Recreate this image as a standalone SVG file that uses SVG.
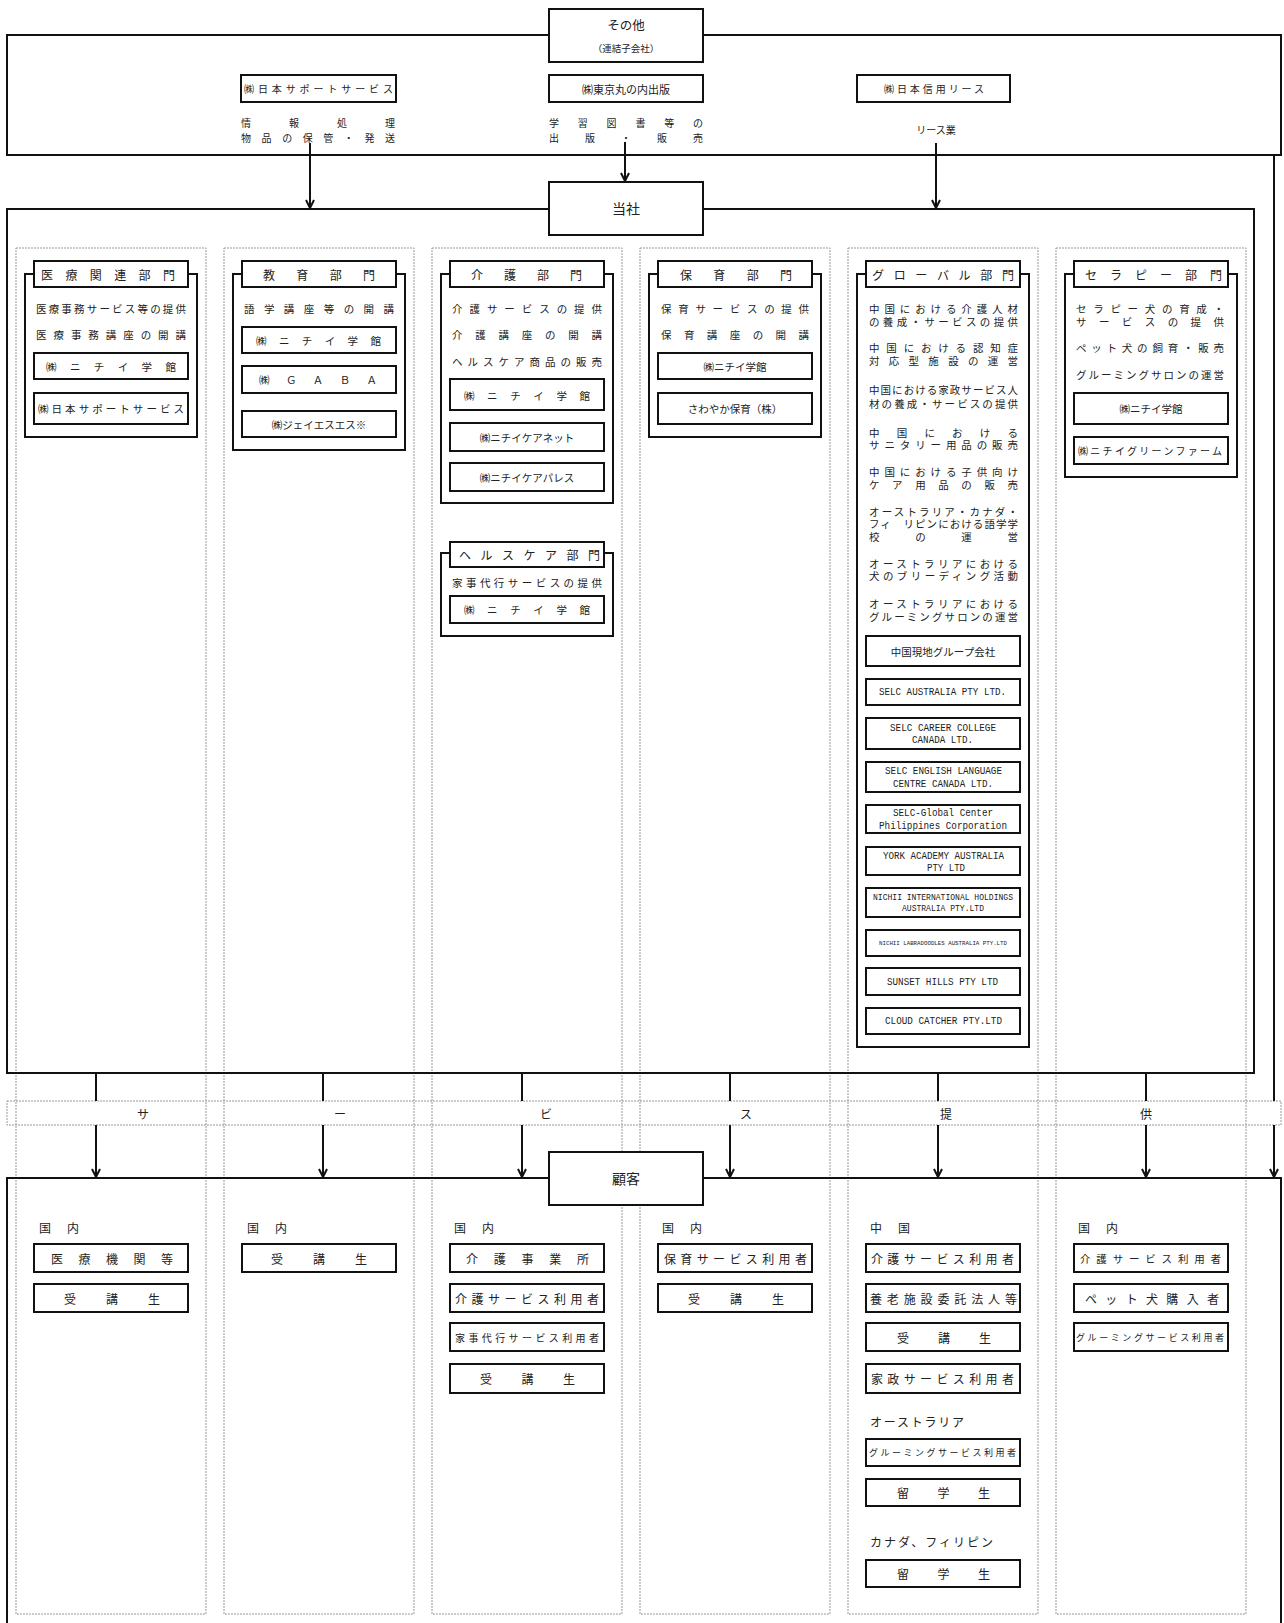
<svg xmlns="http://www.w3.org/2000/svg" width="1284" height="1623" viewBox="0 0 1284 1623">
<style>
.frame{fill:none;stroke:#111;stroke-width:2}
.wf{fill:#fff;stroke:#111;stroke-width:2}
.box{fill:#fff;stroke:#111;stroke-width:2}
.col{fill:none;stroke:#999;stroke-width:1;stroke-dasharray:2 1}
.band{fill:none;stroke:#999;stroke-width:1;stroke-dasharray:2 1}
.conn{fill:none;stroke:#111;stroke-width:2}
text{font-family:"Noto Sans CJK JP","Noto Sans CJK SC",sans-serif;fill:#222;dominant-baseline:central}
.b{font-size:10.5px}
.s{font-size:10px}
.ti{font-size:12px}
.c{font-size:12px}
.m{text-anchor:middle}
.en{font-family:"Liberation Mono",monospace;font-size:11px}
.en2{font-family:"Liberation Mono",monospace;font-size:10px}
</style>
<defs>
<marker id="arr" markerUnits="userSpaceOnUse" markerWidth="10" markerHeight="10" viewBox="0 0 10 10" refX="9" refY="5" orient="auto">
<path d="M1,1 L9,5 L1,9" fill="none" stroke="#111" stroke-width="2"/>
</marker>
</defs>

<!-- dotted columns -->
<g id="columns">
<rect class="col" x="16" y="248" width="190" height="1366"/>
<rect class="col" x="224" y="248" width="190" height="1366"/>
<rect class="col" x="432" y="248" width="190" height="1366"/>
<rect class="col" x="640" y="248" width="190" height="1366"/>
<rect class="col" x="848" y="248" width="190" height="1366"/>
<rect class="col" x="1056" y="248" width="190" height="1366"/>
</g>

<!-- big frames -->
<g id="sonota-frame"><rect class="frame" x="7" y="35" width="1274" height="120"/></g>
<g id="tousha-frame"><rect class="frame" x="7" y="209" width="1247" height="864"/></g>
<g id="kokyaku-frame"><rect class="frame" x="7" y="1178" width="1274" height="470"/></g>

<g id="service-band">
<rect class="band" x="7" y="1101" width="1274" height="24"/>
<text class="c m" x="143" y="1113">サ</text>
<text class="c m" x="340" y="1113">ー</text>
<text class="c m" x="546" y="1113">ビ</text>
<text class="c m" x="746" y="1113">ス</text>
<text class="c m" x="946" y="1113">提</text>
<text class="c m" x="1146" y="1113">供</text>
</g>

<!-- connectors -->
<g id="connectors">
<path class="conn" d="M310,143 V208" marker-end="url(#arr)"/>
<path class="conn" d="M625,142 V181" marker-end="url(#arr)"/>
<path class="conn" d="M936,143 V208" marker-end="url(#arr)"/>
<path class="conn" d="M1274,155 V1101"/>
<path class="conn" d="M1274,1125 V1177" marker-end="url(#arr)"/>
<path class="conn" d="M96,1073 V1101"/><path class="conn" d="M96,1125 V1177" marker-end="url(#arr)"/>
<path class="conn" d="M323,1073 V1101"/><path class="conn" d="M323,1125 V1177" marker-end="url(#arr)"/>
<path class="conn" d="M522,1073 V1101"/><path class="conn" d="M522,1125 V1177" marker-end="url(#arr)"/>
<path class="conn" d="M730,1073 V1101"/><path class="conn" d="M730,1125 V1177" marker-end="url(#arr)"/>
<path class="conn" d="M938,1073 V1101"/><path class="conn" d="M938,1125 V1177" marker-end="url(#arr)"/>
<path class="conn" d="M1146,1073 V1101"/><path class="conn" d="M1146,1125 V1177" marker-end="url(#arr)"/>
</g>

<!-- top nodes -->
<g id="sonota">
<rect class="box" x="549" y="9" width="154" height="53"/>
<text class="m" x="626" y="24" style="font-size:12.5px">その他</text>
<text class="m" x="626" y="48" style="font-size:9.5px">（連結子会社）</text>
</g>
<g id="nihon-support-top">
<rect class="box" x="241" y="75" width="155" height="27"/>
<text class="s" x="244" y="88.5" textLength="149" lengthAdjust="spacing">㈱日本サポートサービス</text>
<text class="s" x="241" y="122" textLength="154" lengthAdjust="spacing">情報処理</text>
<text class="s" x="241" y="137" textLength="154" lengthAdjust="spacing">物品の保管・発送</text>
</g>
<g id="tokyo-marunouchi">
<rect class="box" x="549" y="75" width="154" height="27"/>
<text class="m" x="626" y="88.5" style="font-size:11px">㈱東京丸の内出版</text>
<text class="s" x="549" y="122" textLength="154" lengthAdjust="spacing">学習図書等の</text>
<text class="s" x="549" y="137" textLength="154" lengthAdjust="spacing">出版・販売</text>
</g>
<g id="nihon-shinyo">
<rect class="box" x="857" y="75" width="153" height="27"/>
<text class="s" x="884" y="88.5" textLength="100" lengthAdjust="spacing">㈱日本信用リース</text>
<text class="s m" x="936" y="129">リース業</text>
</g>
<g id="tousha">
<rect class="box" x="549" y="182" width="154" height="53"/>
<text class="m" x="626" y="208" style="font-size:14px">当社</text>
</g>
<g id="kokyaku">
<rect class="box" x="549" y="1152" width="154" height="53"/>
<text class="m" x="626" y="1178" style="font-size:14px">顧客</text>
</g>

<!-- departments -->
<g id="dept-iryo">
<rect class="frame" x="25" y="274" width="172" height="163"/>
<rect class="box" x="34" y="261" width="154" height="26"/>
<text class="ti" x="41" y="274" textLength="134" lengthAdjust="spacing">医療関連部門</text>
<text class="b" x="36" y="308" textLength="150" lengthAdjust="spacing">医療事務サービス等の提供</text>
<text class="b" x="36" y="334" textLength="150" lengthAdjust="spacing">医療事務講座の開講</text>
<rect class="box" x="34" y="353" width="154" height="26"/>
<text class="b" x="46" y="366" textLength="130" lengthAdjust="spacing">㈱ニチイ学館</text>
<rect class="box" x="34" y="393" width="154" height="31"/>
<text class="b" x="38" y="408.5" textLength="146" lengthAdjust="spacing">㈱日本サポートサービス</text>
</g>

<g id="dept-kyoiku">
<rect class="frame" x="233" y="274" width="172" height="176"/>
<rect class="box" x="242" y="261" width="154" height="26"/>
<text class="ti" x="263" y="274" textLength="112" lengthAdjust="spacing">教育部門</text>
<text class="b" x="244" y="308" textLength="150" lengthAdjust="spacing">語学講座等の開講</text>
<rect class="box" x="242" y="327" width="154" height="26"/>
<text class="b" x="256" y="340" textLength="125" lengthAdjust="spacing">㈱ニチイ学館</text>
<rect class="box" x="242" y="366" width="154" height="27"/>
<text class="b" x="259" y="379.5" textLength="118" lengthAdjust="spacing">㈱ＧＡＢＡ</text>
<rect class="box" x="242" y="411" width="154" height="26"/>
<text class="b m" x="319" y="424">㈱ジェイエスエス※</text>
</g>

<g id="dept-kaigo">
<rect class="frame" x="441" y="274" width="172" height="229"/>
<rect class="box" x="450" y="261" width="154" height="26"/>
<text class="ti" x="471" y="274" textLength="111" lengthAdjust="spacing">介護部門</text>
<text class="b" x="452" y="308" textLength="150" lengthAdjust="spacing">介護サービスの提供</text>
<text class="b" x="452" y="334" textLength="150" lengthAdjust="spacing">介護講座の開講</text>
<text class="b" x="452" y="361" textLength="150" lengthAdjust="spacing">ヘルスケア商品の販売</text>
<rect class="box" x="450" y="379" width="154" height="31"/>
<text class="b" x="464" y="395" textLength="126" lengthAdjust="spacing">㈱ニチイ学館</text>
<rect class="box" x="450" y="423" width="154" height="28"/>
<text class="b m" x="527" y="437">㈱ニチイケアネット</text>
<rect class="box" x="450" y="463" width="154" height="28"/>
<text class="b m" x="527" y="477">㈱ニチイケアパレス</text>
</g>

<g id="dept-healthcare">
<rect class="frame" x="441" y="553" width="172" height="83"/>
<rect class="box" x="450" y="542" width="154" height="25"/>
<text class="ti" x="459" y="554.5" textLength="141" lengthAdjust="spacing">ヘルスケア部門</text>
<text class="b" x="452" y="582" textLength="150" lengthAdjust="spacing">家事代行サービスの提供</text>
<rect class="box" x="450" y="596" width="154" height="27"/>
<text class="b" x="464" y="609.5" textLength="126" lengthAdjust="spacing">㈱ニチイ学館</text>
</g>

<g id="dept-hoiku">
<rect class="frame" x="649" y="274" width="172" height="163"/>
<rect class="box" x="658" y="261" width="154" height="26"/>
<text class="ti" x="680" y="274" textLength="112" lengthAdjust="spacing">保育部門</text>
<text class="b" x="661" y="308" textLength="148" lengthAdjust="spacing">保育サービスの提供</text>
<text class="b" x="661" y="334" textLength="148" lengthAdjust="spacing">保育講座の開講</text>
<rect class="box" x="658" y="353" width="154" height="26"/>
<text class="b m" x="735" y="366">㈱ニチイ学館</text>
<rect class="box" x="658" y="393" width="154" height="31"/>
<text class="b m" x="735" y="408.5">さわやか保育（株）</text>
</g>

<g id="dept-global">
<rect class="frame" x="857" y="274" width="172" height="773"/>
<rect class="box" x="866" y="261" width="154" height="26"/>
<text class="ti" x="872" y="274" textLength="142" lengthAdjust="spacing">グローバル部門</text>
<text class="b" x="869" y="308" textLength="149" lengthAdjust="spacing">中国における介護人材</text>
<text class="b" x="869" y="321" textLength="149" lengthAdjust="spacing">の養成・サービスの提供</text>
<text class="b" x="869" y="347" textLength="149" lengthAdjust="spacing">中国における認知症</text>
<text class="b" x="869" y="360" textLength="149" lengthAdjust="spacing">対応型施設の運営</text>
<text class="b" x="869" y="389" textLength="149" lengthAdjust="spacing">中国における家政サービス人</text>
<text class="b" x="869" y="403" textLength="149" lengthAdjust="spacing">材の養成・サービスの提供</text>
<text class="b" x="869" y="432" textLength="149" lengthAdjust="spacing">中国における</text>
<text class="b" x="869" y="444" textLength="149" lengthAdjust="spacing">サニタリー用品の販売</text>
<text class="b" x="869" y="471" textLength="149" lengthAdjust="spacing">中国における子供向け</text>
<text class="b" x="869" y="484" textLength="149" lengthAdjust="spacing">ケア用品の販売</text>
<text class="b" x="869" y="511" textLength="149" lengthAdjust="spacing">オーストラリア・カナダ・</text>
<text class="b" x="869" y="523" textLength="149" lengthAdjust="spacing">フィ　リピンにおける語学学</text>
<text class="b" x="869" y="536" textLength="149" lengthAdjust="spacing">校の運営</text>
<text class="b" x="869" y="563" textLength="149" lengthAdjust="spacing">オーストラリアにおける</text>
<text class="b" x="869" y="575" textLength="149" lengthAdjust="spacing">犬のブリーディング活動</text>
<text class="b" x="869" y="603" textLength="149" lengthAdjust="spacing">オーストラリアにおける</text>
<text class="b" x="869" y="616" textLength="149" lengthAdjust="spacing">グルーミングサロンの運営</text>
<rect class="box" x="866" y="636" width="154" height="30"/>
<text class="b m" x="943" y="651">中国現地グループ会社</text>
<rect class="box" x="866" y="679" width="154" height="26"/>
<text class="en" x="879" y="692" textLength="127" lengthAdjust="spacingAndGlyphs">SELC AUSTRALIA PTY LTD.</text>
<rect class="box" x="866" y="718" width="154" height="31"/>
<text class="en2" x="890" y="728" textLength="106" lengthAdjust="spacingAndGlyphs">SELC CAREER COLLEGE</text>
<text class="en2" x="912" y="740.5" textLength="61" lengthAdjust="spacingAndGlyphs">CANADA LTD.</text>
<rect class="box" x="866" y="762" width="154" height="30"/>
<text class="en2" x="885" y="771" textLength="117" lengthAdjust="spacingAndGlyphs">SELC ENGLISH LANGUAGE</text>
<text class="en2" x="893" y="784" textLength="100" lengthAdjust="spacingAndGlyphs">CENTRE CANADA LTD.</text>
<rect class="box" x="866" y="805" width="154" height="28"/>
<text class="en2" x="893" y="813.5" textLength="100" lengthAdjust="spacingAndGlyphs">SELC-Global Center</text>
<text class="en2" x="879" y="826.5" textLength="128" lengthAdjust="spacingAndGlyphs">Philippines Corporation</text>
<rect class="box" x="866" y="847" width="154" height="28"/>
<text class="en2" x="883" y="856" textLength="121" lengthAdjust="spacingAndGlyphs">YORK ACADEMY AUSTRALIA</text>
<text class="en2" x="927" y="868" textLength="38" lengthAdjust="spacingAndGlyphs">PTY LTD</text>
<rect class="box" x="866" y="888" width="154" height="29"/>
<text class="en2" x="873" y="898" textLength="140" lengthAdjust="spacingAndGlyphs" style="font-size:9px">NICHII INTERNATIONAL HOLDINGS</text>
<text class="en2" x="902" y="909" textLength="82" lengthAdjust="spacingAndGlyphs" style="font-size:9px">AUSTRALIA PTY.LTD</text>
<rect class="box" x="866" y="930" width="154" height="26"/>
<text class="en2" x="879" y="943" textLength="128" lengthAdjust="spacingAndGlyphs" style="font-size:6px">NICHII LABRADOODLES AUSTRALIA PTY.LTD</text>
<rect class="box" x="866" y="968" width="154" height="27"/>
<text class="en" x="887" y="981.5" textLength="111" lengthAdjust="spacingAndGlyphs">SUNSET HILLS PTY LTD</text>
<rect class="box" x="866" y="1008" width="154" height="26"/>
<text class="en" x="885" y="1021" textLength="117" lengthAdjust="spacingAndGlyphs">CLOUD CATCHER PTY.LTD</text>
</g>

<g id="dept-therapy">
<rect class="frame" x="1065" y="274" width="172" height="203"/>
<rect class="box" x="1074" y="261" width="154" height="26"/>
<text class="ti" x="1085" y="274" textLength="137" lengthAdjust="spacing">セラピー部門</text>
<text class="b" x="1076" y="308" textLength="148" lengthAdjust="spacing">セラピー犬の育成・</text>
<text class="b" x="1076" y="321" textLength="148" lengthAdjust="spacing">サービスの提供</text>
<text class="b" x="1076" y="347" textLength="148" lengthAdjust="spacing">ペット犬の飼育・販売</text>
<text class="b" x="1076" y="374" textLength="148" lengthAdjust="spacing">グルーミングサロンの運営</text>
<rect class="box" x="1074" y="393" width="154" height="31"/>
<text class="b m" x="1151" y="408.5">㈱ニチイ学館</text>
<rect class="box" x="1074" y="437" width="154" height="27"/>
<text class="s" x="1078" y="450.5" textLength="144" lengthAdjust="spacing">㈱ニチイグリーンファーム</text>
</g>

<!-- customers -->
<g id="cust-iryo">
<text class="c" x="39" y="1227" textLength="40" lengthAdjust="spacing">国内</text>
<rect class="box" x="34" y="1244" width="154" height="28"/>
<text class="c" x="51" y="1258" textLength="122" lengthAdjust="spacing">医療機関等</text>
<rect class="box" x="34" y="1284" width="154" height="28"/>
<text class="c" x="64" y="1298" textLength="96" lengthAdjust="spacing">受講生</text>
</g>
<g id="cust-kyoiku">
<text class="c" x="247" y="1227" textLength="40" lengthAdjust="spacing">国内</text>
<rect class="box" x="242" y="1244" width="154" height="28"/>
<text class="c" x="271" y="1258" textLength="96" lengthAdjust="spacing">受講生</text>
</g>
<g id="cust-kaigo">
<text class="c" x="454" y="1227" textLength="40" lengthAdjust="spacing">国内</text>
<rect class="box" x="450" y="1244" width="154" height="28"/>
<text class="c" x="466" y="1258" textLength="123" lengthAdjust="spacing">介護事業所</text>
<rect class="box" x="450" y="1284" width="154" height="28"/>
<text class="c" x="455" y="1298" textLength="144" lengthAdjust="spacing">介護サービス利用者</text>
<rect class="box" x="450" y="1323" width="154" height="28"/>
<text class="s" x="455" y="1337" textLength="144" lengthAdjust="spacing">家事代行サービス利用者</text>
<rect class="box" x="450" y="1364" width="154" height="29"/>
<text class="c" x="480" y="1378.5" textLength="95" lengthAdjust="spacing">受講生</text>
</g>
<g id="cust-hoiku">
<text class="c" x="662" y="1227" textLength="40" lengthAdjust="spacing">国内</text>
<rect class="box" x="658" y="1244" width="154" height="28"/>
<text class="c" x="664" y="1258" textLength="143" lengthAdjust="spacing">保育サービス利用者</text>
<rect class="box" x="658" y="1284" width="154" height="28"/>
<text class="c" x="688" y="1298" textLength="96" lengthAdjust="spacing">受講生</text>
</g>
<g id="cust-global">
<text class="c" x="870" y="1227" textLength="40" lengthAdjust="spacing">中国</text>
<rect class="box" x="866" y="1244" width="154" height="28"/>
<text class="c" x="871" y="1258" textLength="143" lengthAdjust="spacing">介護サービス利用者</text>
<rect class="box" x="866" y="1284" width="154" height="28"/>
<text class="c" x="870" y="1298" textLength="147" lengthAdjust="spacing">養老施設委託法人等</text>
<rect class="box" x="866" y="1323" width="154" height="28"/>
<text class="c" x="897" y="1337" textLength="94" lengthAdjust="spacing">受講生</text>
<rect class="box" x="866" y="1364" width="154" height="29"/>
<text class="c" x="871" y="1378.5" textLength="143" lengthAdjust="spacing">家政サービス利用者</text>
<text class="c" x="870" y="1421" textLength="94" lengthAdjust="spacing">オーストラリア</text>
<rect class="box" x="866" y="1439" width="154" height="27"/>
<text class="s" x="869" y="1452.5" textLength="147" lengthAdjust="spacing" style="font-size:9px">グルーミングサービス利用者</text>
<rect class="box" x="866" y="1479" width="154" height="27"/>
<text class="c" x="897" y="1492.5" textLength="93" lengthAdjust="spacing">留学生</text>
<text class="c" x="870" y="1541" textLength="123" lengthAdjust="spacing">カナダ、フィリピン</text>
<rect class="box" x="866" y="1560" width="154" height="27"/>
<text class="c" x="897" y="1573.5" textLength="93" lengthAdjust="spacing">留学生</text>
</g>
<g id="cust-therapy">
<text class="c" x="1078" y="1227" textLength="40" lengthAdjust="spacing">国内</text>
<rect class="box" x="1074" y="1244" width="154" height="28"/>
<text class="b" x="1080" y="1258" textLength="141" lengthAdjust="spacing">介護サービス利用者</text>
<rect class="box" x="1074" y="1284" width="154" height="28"/>
<text class="c" x="1085" y="1298" textLength="134" lengthAdjust="spacing">ペット犬購入者</text>
<rect class="box" x="1074" y="1323" width="154" height="28"/>
<text class="s" x="1076" y="1337" textLength="148" lengthAdjust="spacing" style="font-size:9px">グルーミングサービス利用者</text>
</g>
</svg>
